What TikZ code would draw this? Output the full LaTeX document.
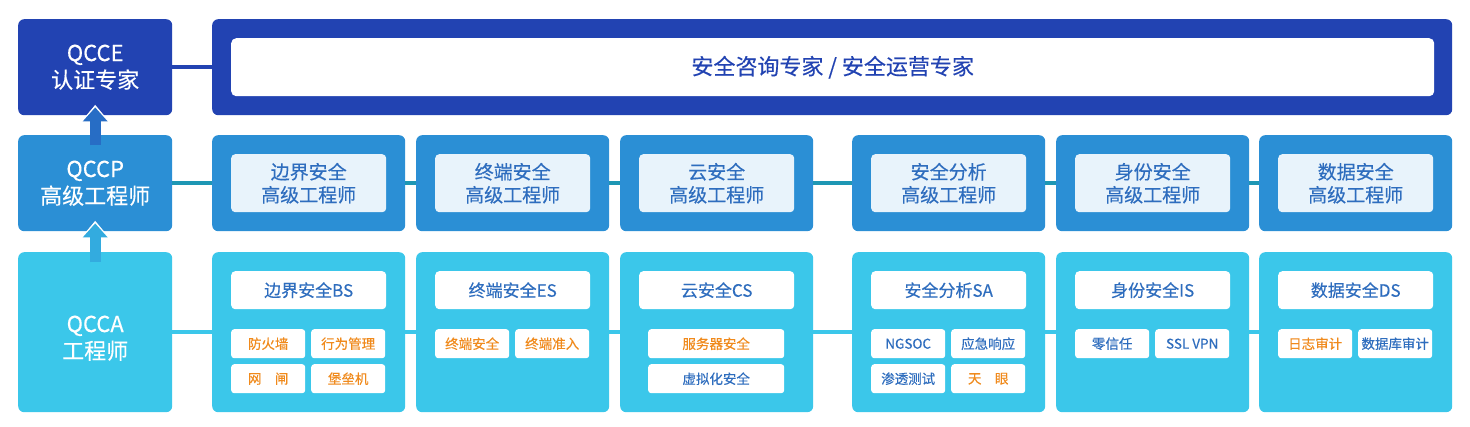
\documentclass[tikz,border=0pt]{standalone}
\usepackage{fontspec}
\setmainfont{Noto Sans CJK SC}[FakeBold=0.3]
\usetikzlibrary{arrows.meta}

\definecolor{expertblue}{HTML}{2243B2}
\definecolor{seniorblue}{HTML}{2B8FD5}
\definecolor{baseblue}{HTML}{3BC7EA}
\definecolor{innerlight}{HTML}{E8F3FB}
\definecolor{textblue}{HTML}{2E6DBE}
\definecolor{itemorange}{HTML}{F08A1C}
\definecolor{midlinkteal}{HTML}{1E97B4}

\tikzset{
  card/.style={rounded corners=6pt, inner sep=0pt, anchor=north west, align=center},
  expertcard/.style={card, fill=expertblue, text=white, font=\fontsize{22}{27}\selectfont},
  seniorcard/.style={card, fill=seniorblue, text=white, minimum width=193pt, minimum height=96pt},
  basecard/.style={card, fill=baseblue, text=white, minimum width=193pt, minimum height=160pt},
  innerbox/.style={card, rounded corners=4pt, fill=innerlight, text=textblue, minimum width=155pt, minimum height=58pt, font=\fontsize{19}{23}\selectfont},
  titlebox/.style={card, rounded corners=4pt, fill=white, text=textblue, minimum width=155pt, minimum height=38pt, font=\fontsize{17}{20}\selectfont},
  itembox/.style={card, rounded corners=3pt, fill=white, text=textblue, minimum width=74pt, minimum height=29pt, font=\fontsize{13.5}{16}\selectfont},
  hot/.style={text=itemorange},
  link/.style={line width=4.5pt},
  arrowhalo/.style={white, line width=1pt, -{Triangle[width=30pt,length=18pt]}},
  uparrow/.style={#1, line width=11pt, -{Triangle[width=24pt,length=14pt]}}
}

\begin{document}
\begin{tikzpicture}[x=1pt, y=-1pt]
    \useasboundingbox (0,0) rectangle (1470,426);

    % left column: levels
    \node[expertcard, minimum width=154pt, minimum height=96pt] (qcce) at (18,19) {QCCE\\认证专家};
    \node[expertcard, fill=seniorblue, minimum width=154pt, minimum height=96pt] (qccp) at (18,135) {QCCP\\高级工程师};
    \node[expertcard, fill=baseblue, minimum width=154pt, minimum height=160pt] (qcca) at (18,252) {};
    \node[text=white, align=center, font=\fontsize{22}{27}\selectfont] (qccatext) at ([yshift=-6pt]qcca.center) {QCCA\\工程师};

    % level arrows (white rim under the head)
    \draw[arrowhalo] ([yshift=-12pt]qcce.south) -- ([yshift=10.5pt]qcce.south);
    \draw[uparrow=seniorblue!55!expertblue] ([yshift=-10pt]qccp.north) -- ([yshift=8pt]qcce.south);
    \draw[arrowhalo] ([yshift=-12pt]qccp.south) -- ([yshift=10.5pt]qccp.south);
    \draw[uparrow=baseblue!50!seniorblue] ([yshift=-10pt]qcca.north) -- ([yshift=8pt]qccp.south);

    % top bar
    \node[card, fill=expertblue, minimum width=1240pt, minimum height=96pt] (bar) at (212,19) {};
    \node[card, rounded corners=5pt, fill=white, text=expertblue, minimum width=1203pt, minimum height=58pt,
          font=\fontsize{22}{26}\selectfont] (barin) at (231,38) {安全咨询专家 / 安全运营专家};
    \draw[link, expertblue] (qcce.east |- bar.west) -- (bar.west);

    % middle row: senior engineers
    \foreach \n/\x/\area in {1/212/边界安全, 2/416/终端安全, 3/620/云安全, 4/852/安全分析, 5/1056/身份安全, 6/1259/数据安全} {
        \node[seniorcard] (s\n) at (\x,135) {};
        \node[innerbox] (si\n) at (\x+19,154) {\area\\高级工程师};
    }
    \draw[link, midlinkteal] (qccp.east) -- (s1.west);
    \foreach \a/\b in {1/2, 2/3, 3/4, 4/5, 5/6}
        \draw[link, midlinkteal] (s\a.east) -- (s\b.west);

    % bottom row: engineers
    \foreach \n/\x/\area in {1/212/边界安全BS, 2/416/终端安全ES, 3/620/云安全CS, 4/852/安全分析SA, 5/1056/身份安全IS, 6/1259/数据安全DS} {
        \node[basecard] (b\n) at (\x,252) {};
        \node[titlebox] (bt\n) at (\x+19,271) {\area};
    }
    \draw[link, baseblue] (qcca.east) -- (b1.west);
    \foreach \a/\b in {1/2, 2/3, 3/4, 4/5, 5/6}
        \draw[link, baseblue] (b\a.east) -- (b\b.west);

    % boundary security
    \node[itembox, hot] (bs1) at (231,329) {防火墙};
    \node[itembox, hot] (bs2) at (311,329) {行为管理};
    \node[itembox, hot] (bs3) at (231,364) {网\quad 闸};
    \node[itembox, hot] (bs4) at (311,364) {堡垒机};

    % endpoint security
    \node[itembox, hot] (es1) at (435,329) {终端安全};
    \node[itembox, hot] (es2) at (515,329) {终端准入};

    % cloud security
    \node[itembox, hot, minimum width=136pt] (cs1) at (648,329) {服务器安全};
    \node[itembox, minimum width=136pt] (cs2) at (648,364) {虚拟化安全};

    % security analysis
    \node[itembox] (sa1) at (871,329) {NGSOC};
    \node[itembox] (sa2) at (951,329) {应急响应};
    \node[itembox] (sa3) at (871,364) {渗透测试};
    \node[itembox, hot] (sa4) at (951,364) {天\quad 眼};

    % identity security
    \node[itembox] (is1) at (1075,329) {零信任};
    \node[itembox] (is2) at (1155,329) {SSL VPN};

    % data security
    \node[itembox, hot] (ds1) at (1278,329) {日志审计};
    \node[itembox] (ds2) at (1358,329) {数据库审计};
\end{tikzpicture}
\end{document}
